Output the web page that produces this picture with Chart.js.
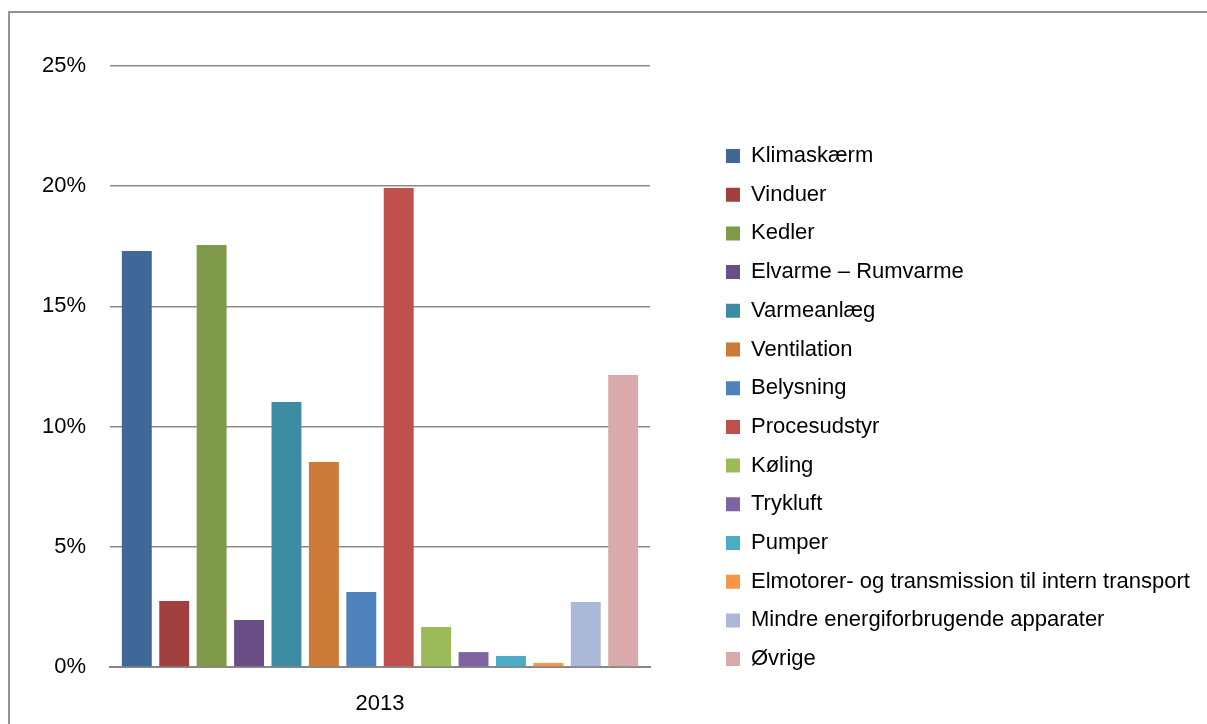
<!DOCTYPE html>
<html><head><meta charset="utf-8">
<script src="https://cdn.jsdelivr.net/npm/chart.js@4.4.0/dist/chart.umd.min.js"></script>
<style>
html,body{margin:0;padding:0;background:#fff;overflow:hidden}
#wrap{position:relative;width:1207px;height:724px}
#frame{position:absolute;left:8px;top:11px;width:1260px;height:800px;border:2px solid #939393;box-sizing:border-box}
canvas{position:absolute;left:0;top:0}
</style></head><body>
<div id="wrap"><div id="frame"></div><canvas id="c" width="1207" height="724"></canvas></div>
<script>
const categories = ['2013'];
const seriesNames = [
  'Klimaskærm', 'Vinduer', 'Kedler', 'Elvarme – Rumvarme', 'Varmeanlæg', 'Ventilation',
  'Belysning', 'Procesudstyr', 'Køling', 'Trykluft', 'Pumper',
  'Elmotorer- og transmission til intern transport', 'Mindre energiforbrugende apparater', 'Øvrige'
];
const seriesValues = [17.3, 2.75, 17.55, 1.95, 11.02, 8.53, 3.12, 19.92, 1.66, 0.62, 0.46, 0.17, 2.70, 12.15];
const seriesColors = [
  '#3F6899', '#A1403E', '#7F9A48', '#6A4F87', '#3C8DA3', '#CB7B37', '#4F81BD',
  '#C0504D', '#9BBB59', '#8064A2', '#4BACC6', '#F79646', '#AAB9D7', '#D9AAA9'
];
const yTickValues = [0, 5, 10, 15, 20, 25];
const yTickSuffix = '%';

const FONT_FAMILY = '"Liberation Sans", Arial, sans-serif';
const FS = 22;
const LEG_PAD = 16.7;
const BOX = 14;
const W = 1207, H = 724;
const PLOT_RIGHT = 650, PLOT_BOTTOM = 667, PLOT_TOP = 66, PLOT_LEFT = 110;
const LEGEND_BOX_X = 726;
const LEGEND_FIRST_ROW_TOP = 145;
const TITLE_FS = 10;
const titleSpace = LEGEND_FIRST_ROW_TOP - PLOT_TOP - LEG_PAD - TITLE_FS;

const mctx = document.createElement('canvas').getContext('2d');
mctx.font = FS + 'px ' + FONT_FAMILY;
const maxTextW = Math.max(...seriesNames.map(n => mctx.measureText(n).width));
const legendW = LEG_PAD + BOX + FS / 2 + maxTextW + 10;
const padRight = W - (LEGEND_BOX_X - LEG_PAD) - legendW;

const datasets = seriesNames.map((name, i) => ({
  label: name,
  data: [seriesValues[i]],
  backgroundColor: seriesColors[i],
  borderWidth: 0,
  categoryPercentage: 0.97,
  barPercentage: 0.8
}));

new Chart(document.getElementById('c'), {
  type: 'bar',
  data: { labels: categories, datasets },
  options: {
    responsive: false,
    animation: false,
    layout: { padding: { left: 0, top: PLOT_TOP, right: padRight, bottom: 0 } },
    plugins: {
      tooltip: { enabled: false },
      legend: {
        position: 'right',
        align: 'start',
        maxWidth: 900,
        title: { display: true, text: ' ', font: { size: TITLE_FS, lineHeight: 1 },
          padding: { top: titleSpace, bottom: 0 } },
        labels: {
          boxWidth: BOX, boxHeight: BOX, padding: LEG_PAD, color: '#000',
          font: { family: FONT_FAMILY, size: FS }
        }
      }
    },
    scales: {
      x: {
        grid: { display: false, drawTicks: false },
        border: { display: true, color: '#878787', width: 2 },
        ticks: { color: '#000', padding: 24, font: { family: FONT_FAMILY, size: FS } },
        afterFit: s => { s.height = H - PLOT_BOTTOM; }
      },
      y: {
        min: yTickValues[0], max: yTickValues[yTickValues.length - 1],
        grid: { color: '#8a8a8a', lineWidth: 1.5, drawTicks: false },
        border: { display: false },
        afterBuildTicks: s => { s.ticks = yTickValues.map(v => ({ value: v })); },
        ticks: { color: '#000', padding: 24, font: { family: FONT_FAMILY, size: FS },
          callback: v => v + yTickSuffix },
        afterFit: s => { s.width = PLOT_LEFT; }
      },
      yRight: {
        type: 'linear', position: 'right', display: true,
        grid: { display: false, drawTicks: false }, border: { display: false },
        ticks: { display: false },
        afterFit: s => { s.width = (LEGEND_BOX_X - LEG_PAD) - PLOT_RIGHT; }
      }
    }
  }
});
</script>
</body></html>
